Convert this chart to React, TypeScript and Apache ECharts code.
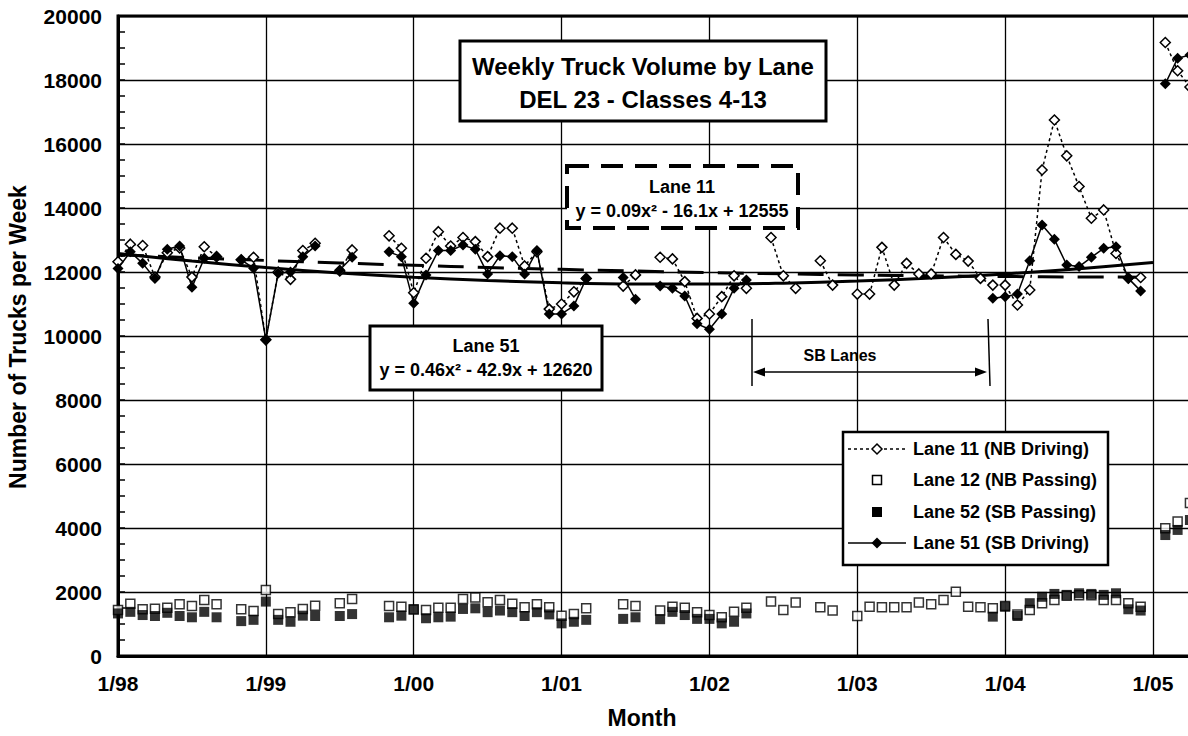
import React, { useEffect, useRef } from "react";
import * as echarts from "echarts";

// month index 0 = 1/98
const tickLabels = ["1/98", "1/99", "1/00", "1/01", "1/02", "1/03", "1/04", "1/05"];

const lane11: (number | null)[] = [
  12320, 12870, 12830, 11840, 12600, 12750, 11840, 12790, 12480, null,
  12380, 12460, 9880, 12000, 11770, 12670, 12900, null, 12030, 12690,
  null, null, 13130, 12740, 11350, 12430, 13260, 12810, 13080, 12950,
  12480, 13370, 13370, 12190, 12630, 10840, 11000, 11380, 11800, null,
  null, 11560, 11910, null, 12460, 12410, 11700, 10550, 10690, 11230,
  11880, 11490, null, 13080, 11880, 11490, null, 12350, 11590, null,
  11310, 11310, 12770, 11590, 12270, 11940, 11940, 13080, 12550, 12340,
  11800, 11590, 11590, 10970, 11440, 15190, 16750, 15630, 14670, 13680,
  13940, 12580, 11810, 11830, null, 19170, 18290, 17780,
];

const lane12: (number | null)[] = [
  1440, 1630, 1460, 1480, 1510, 1620, 1560, 1750, 1620, null,
  1460, 1410, 2060, 1310, 1370, 1470, 1570, null, 1650, 1780,
  null, null, 1560, 1540, 1450, 1440, 1510, 1510, 1780, 1830,
  1680, 1750, 1630, 1520, 1620, 1520, 1260, 1310, 1490, null,
  null, 1620, 1560, null, 1420, 1540, 1510, 1370, 1280, 1210,
  1380, 1510, null, 1700, 1440, 1670, null, 1520, 1420, null,
  1250, 1540, 1520, 1520, 1520, 1670, 1620, 1750, 2010, 1540,
  1520, 1490, 1560, 1300, 1440, 1650, 1750, 1880, 1900, 1900,
  1750, 1750, 1650, 1540, null, 3990, 4200, 4780,
];

const lane52: (number | null)[] = [
  1330, 1380, 1280, 1250, 1350, 1250, 1210, 1380, 1210, null,
  1090, 1130, 1700, 1130, 1070, 1260, 1250, null, 1250, 1310,
  null, null, 1210, 1260, 1460, 1180, 1210, 1230, 1470, 1490,
  1370, 1420, 1370, 1250, 1370, 1300, 1020, 1070, 1130, null,
  null, 1160, 1210, null, 1150, 1380, 1280, 1160, 1160, 1020,
  1070, 1330, null, null, null, null, null, null, null, null,
  null, null, null, null, null, null, null, null, null, null,
  null, 1230, 1540, 1250, 1650, 1850, 1940, 1910, 1960, 1940,
  1910, 1960, 1460, 1420, null, 3780, 3940, 4250,
];

const lane51: (number | null)[] = [
  12110, 12630, 12270, 11800, 12710, 12810, 11520, 12430, 12480, null,
  12380, 12120, 9880, 11960, 12000, 12480, 12810, null, 12060, 12460,
  null, null, 12630, 12480, 11020, 11910, 12670, 12670, 12840, 12710,
  11940, 12510, 12480, 11940, 12670, 10690, 10690, 10940, 11800, null,
  null, 11830, 11150, null, 11560, 11490, 11250, 10380, 10210, 10690,
  11490, 11750, null, null, null, null, null, null, null, null,
  null, null, null, null, null, null, null, null, null, null,
  null, 11180, 11230, 11310, 12350, 13470, 13020, 12220, 12170, 12460,
  12740, 12790, 11800, 11410, null, 17880, 18680, 18780,
];

// trend lines read at months 0, 6, ..., 84
const trendMonths = [0, 6, 12, 18, 24, 30, 36, 42, 48, 54, 60, 66, 72, 78, 84];
const trend11 = [12539, 12447, 12361, 12282, 12209, 12142, 12083, 12029, 11982, 11942, 11908, 11880, 11859, 11845, 11837];
const trend51 = [12578, 12342, 12140, 11971, 11835, 11732, 11663, 11626, 11622, 11652, 11715, 11811, 11939, 12102, 12297];

const legendNames = ["Lane 11 (NB Driving)", "Lane 12 (NB Passing)", "Lane 52 (SB Passing)", "Lane 51 (SB Driving)"];

const FONT = '"Liberation Sans", Arial, Helvetica, sans-serif';

const toPairs = (arr: (number | null)[]) => arr.map((v, i) => [i, v === null ? NaN : v]);

export default function App() {
  const ref = useRef<HTMLDivElement>(null);
  useEffect(() => {
    document.body.style.margin = "0";
    if (!ref.current) return;
    const chart = echarts.init(ref.current, undefined, { renderer: "svg" });
    const black = "#000";
    const txt = (text: string, x: number, y: number, size: number, align = "center") => ({
      type: "text",
      z: 20,
      style: {
        text,
        x,
        y,
        font: `bold ${size}px ${FONT}`,
        fill: black,
        textAlign: align,
        textVerticalAlign: "middle",
      },
    });
    // legend (drawn by hand so the icons match the original)
    const lx = 843, ly = 432, lw = 265, lh = 133;
    const rows = [449, 480, 512, 543];
    const sx = 877;
    const diamond = (cx: number, cy: number, r: number) => [[cx, cy - r], [cx + r, cy], [cx, cy + r], [cx - r, cy]];
    const legendEls: any[] = [
      { type: "rect", z: 19, shape: { x: lx, y: ly, width: lw, height: lh }, style: { fill: "#fff", stroke: black, lineWidth: 2.5 } },
      { type: "line", z: 20, shape: { x1: 848, y1: rows[0], x2: 906, y2: rows[0] }, style: { stroke: black, lineWidth: 1.5, lineDash: [3, 3] } },
      { type: "polygon", z: 21, shape: { points: diamond(sx, rows[0], 5) }, style: { fill: "#fff", stroke: black, lineWidth: 1.5 } },
      { type: "rect", z: 21, shape: { x: sx - 4.5, y: rows[1] - 4.5, width: 9, height: 9 }, style: { fill: "#fff", stroke: black, lineWidth: 1.5 } },
      { type: "rect", z: 21, shape: { x: sx - 5, y: rows[2] - 5, width: 10, height: 10 }, style: { fill: black } },
      { type: "line", z: 20, shape: { x1: 848, y1: rows[3], x2: 906, y2: rows[3] }, style: { stroke: black, lineWidth: 1.5 } },
      { type: "polygon", z: 21, shape: { points: diamond(sx, rows[3], 5.5) }, style: { fill: black } },
      ...legendNames.map((n, i) => txt(n, 913, rows[i], 18, "left")),
    ];
    chart.setOption({
      animation: false,
      backgroundColor: "#fff",
      grid: {
        left: 118,
        top: 16,
        bottom: 80,
        right: 13.1,
        show: true,
        borderColor: black,
        borderWidth: 3,
        backgroundColor: "transparent",
      },
      xAxis: {
        type: "value",
        min: 0,
        max: 90,
        interval: 12,
        axisLine: { show: true, lineStyle: { color: black, width: 3 } },
        axisTick: { show: false },
        splitLine: { show: true, lineStyle: { color: black, width: 1.3 } },
        axisLabel: {
          formatter: (v: number) => (v % 12 === 0 && tickLabels[v / 12]) || "",
          fontSize: 21,
          fontWeight: "bold",
          fontFamily: FONT,
          color: black,
          margin: 17,
        },
      },
      yAxis: {
        type: "value",
        min: 0,
        max: 20000,
        interval: 2000,
        axisLine: { show: true, lineStyle: { color: black, width: 3 } },
        axisTick: { show: true, inside: true, length: 7, lineStyle: { color: black, width: 1.5 } },
        minorTick: { show: true, splitNumber: 4, length: 7, lineStyle: { color: black, width: 1.5 } },
        splitLine: { show: true, lineStyle: { color: black, width: 1.3 } },
        axisLabel: {
          formatter: (v: number) => String(v),
          fontSize: 21,
          fontWeight: "bold",
          fontFamily: FONT,
          color: black,
          margin: 16,
        },
      },
      series: [
        {
          name: "trend11",
          type: "line",
          data: trendMonths.map((m, i) => [m, trend11[i]]),
          smooth: 0.4,
          showSymbol: false,
          symbol: "none",
          silent: true,
          lineStyle: { color: black, width: 3, type: [26, 14] },
        },
        {
          name: "trend51",
          type: "line",
          data: trendMonths.map((m, i) => [m, trend51[i]]),
          smooth: 0.4,
          showSymbol: false,
          symbol: "none",
          silent: true,
          lineStyle: { color: black, width: 3 },
        },
        {
          name: legendNames[0],
          type: "line",
          data: toPairs(lane11),
          connectNulls: false,
          symbol: "diamond",
          symbolSize: 10,
          showAllSymbol: true,
          itemStyle: { color: "#fff", borderColor: black, borderWidth: 1.5 },
          lineStyle: { color: black, width: 1.5, type: [3, 3] },
        },
        {
          name: legendNames[1],
          type: "scatter",
          data: toPairs(lane12),
          symbol: "rect",
          symbolSize: 9,
          itemStyle: { color: "#fff", borderColor: black, borderWidth: 1.5 },
        },
        {
          name: legendNames[2],
          type: "scatter",
          data: toPairs(lane52),
          symbol: "rect",
          symbolSize: 10,
          itemStyle: { color: black },
        },
        {
          name: legendNames[3],
          type: "line",
          data: toPairs(lane51),
          connectNulls: false,
          symbol: "diamond",
          symbolSize: 11,
          showAllSymbol: true,
          itemStyle: { color: black },
          lineStyle: { color: black, width: 1.5 },
        },
      ],
      graphic: [
        // axis titles
        {
          type: "text",
          z: 20,
          x: 18,
          y: 337,
          rotation: Math.PI / 2,
          style: {
            text: "Number of Trucks per Week",
            x: 0,
            y: 0,
            font: `bold 23px ${FONT}`,
            fill: black,
            textAlign: "center",
            textVerticalAlign: "middle",
          },
        },
        txt("Month", 642, 718, 23),
        // title box
        { type: "rect", z: 19, shape: { x: 460, y: 41, width: 366, height: 80 }, style: { fill: "#fff", stroke: black, lineWidth: 3 } },
        txt("Weekly Truck Volume by Lane", 643, 66, 24),
        txt("DEL 23 - Classes 4-13", 643, 99, 24),
        // lane 11 equation box
        { type: "rect", z: 19, shape: { x: 567, y: 166, width: 231, height: 62 }, style: { fill: "#fff", stroke: black, lineWidth: 4, lineDash: [22, 12] } },
        txt("Lane 11", 682, 187, 18),
        txt("y = 0.09x² - 16.1x + 12555", 682, 211, 18),
        // lane 51 equation box
        { type: "rect", z: 19, shape: { x: 370, y: 326, width: 232, height: 64 }, style: { fill: "#fff", stroke: black, lineWidth: 3 } },
        txt("Lane 51", 486, 346, 18),
        txt("y = 0.46x² - 42.9x + 12620", 486, 370, 18),
        // SB lanes annotation
        { type: "line", z: 19, shape: { x1: 752, y1: 319, x2: 752, y2: 386 }, style: { stroke: black, lineWidth: 1.5 } },
        { type: "line", z: 19, shape: { x1: 988, y1: 319, x2: 990, y2: 386 }, style: { stroke: black, lineWidth: 1.5 } },
        { type: "line", z: 19, shape: { x1: 760, y1: 372, x2: 980, y2: 372 }, style: { stroke: black, lineWidth: 1.5 } },
        { type: "polygon", z: 19, shape: { points: [[753, 372], [765, 367.5], [765, 376.5]] }, style: { fill: black } },
        { type: "polygon", z: 19, shape: { points: [[987, 372], [975, 367.5], [975, 376.5]] }, style: { fill: black } },
        txt("SB Lanes", 840, 355, 16),
        ...legendEls,
      ],
    });
    return () => chart.dispose();
  }, []);
  return (
    <div style={{ width: 1188, height: 736, overflow: "hidden" }}>
      <div ref={ref} style={{ width: 1240, height: 736 }} />
    </div>
  );
}
